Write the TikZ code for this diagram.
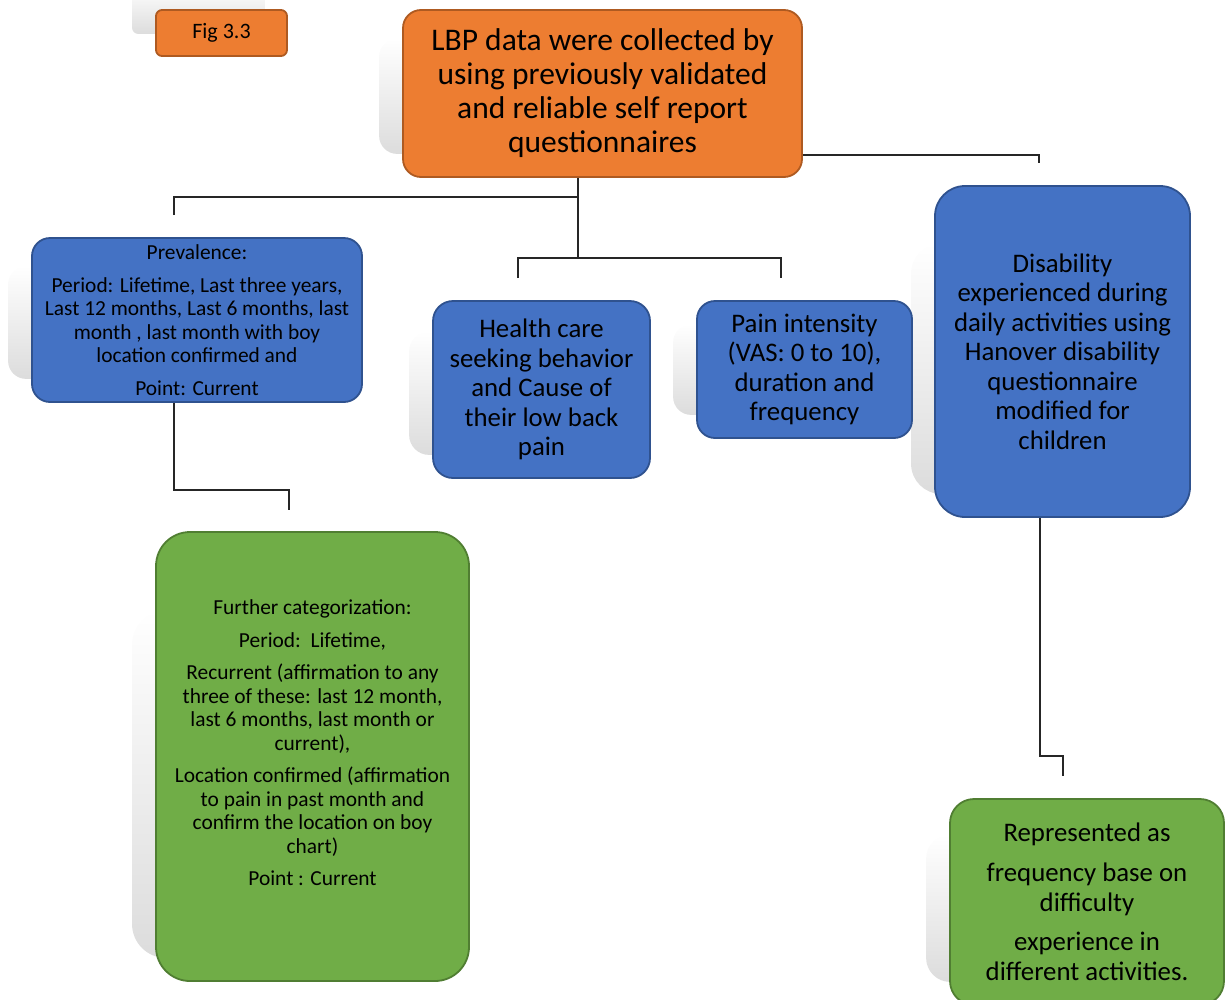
\documentclass[tikz,border=0pt]{standalone}
\usepackage{fontspec}
\setmainfont{Carlito}
\usetikzlibrary{calc,backgrounds,fadings}
\definecolor{orangefill}{HTML}{ED7D31}
\definecolor{orangeline}{HTML}{AE5A21}
\definecolor{bluefill}{HTML}{4472C4}
\definecolor{blueline}{HTML}{2F528F}
\definecolor{greenfill}{HTML}{70AD47}
\definecolor{greenline}{HTML}{507E32}
\definecolor{shadowgray}{HTML}{DCDCDC}
\begin{document}
\begin{tikzpicture}[x=1pt,y=-1pt,
  box/.style={line width=1.8pt, align=center, inner sep=0pt, text=black},
  orangebox/.style={box, fill=orangefill, draw=orangeline},
  bluebox/.style={box, fill=bluefill, draw=blueline},
  greenbox/.style={box, fill=greenfill, draw=greenline},
  link/.style={line width=1.2pt, draw=black!85},
  softshadow/.style={fill=shadowgray, path fading=north},
  fsmall/.style={font=\fontsize{21.4}{23.5}\selectfont},
  fmid/.style={font=\fontsize{26.8}{29.5}\selectfont},
  fbig/.style={font=\fontsize{31.5}{34}\selectfont}]
\useasboundingbox (0,0) rectangle (1225,999);

% boxes
\node[orangebox, rounded corners=6, minimum width=131, minimum height=46,
      font=\fontsize{22}{24}\selectfont] (fig) at (221.5,33) {Fig 3.3};
\node[orangebox, rounded corners=18, minimum width=399, minimum height=167, fbig]
  (main) at (602.5,93.5)
  {LBP data were collected by\\ using previously validated\\ and reliable self report\\ questionnaires};
\node[bluebox, rounded corners=18, minimum width=330, minimum height=164, fsmall]
  (prev) at (197,320)
  {Prevalence:\\[9pt] Period: Lifetime, Last three years,\\ Last 12 months, Last 6 months, last\\ month , last month with boy\\ location confirmed and\\[9pt] Point: Current};
\node[bluebox, rounded corners=20, minimum width=217, minimum height=177, fmid]
  (health) at (541.5,389.5)
  {Health care\\ seeking behavior\\ and Cause of\\ their low back\\ pain};
\node[bluebox, rounded corners=18, minimum width=215, minimum height=137, fmid]
  (pain) at (804.5,369.5)
  {Pain intensity\\ (VAS: 0 to 10),\\ duration and\\ frequency};
\node[bluebox, rounded corners=30, minimum width=255, minimum height=331, fmid]
  (disab) at (1062.5,351.5)
  {Disability\\ experienced during\\ daily activities using\\ Hanover disability\\ questionnaire\\ modified for\\ children};
\node[greenbox, rounded corners=34, minimum width=313, minimum height=449, fsmall]
  (further) at (312.5,756.5)
  {Further categorization:\\[9pt] Period:\ \ Lifetime,\\[9pt] Recurrent (affirmation to any\\ three of these: last 12 month,\\ last 6 months, last month or\\ current),\\[9pt] Location confirmed (affirmation\\ to pain in past month and\\ confirm the location on boy\\ chart)\\[9pt] Point : Current\\[4pt]\mbox{}};
\node[greenbox, rounded corners=24, minimum width=274, minimum height=206, fmid]
  (repr) at (1087,902)
  {Represented as\\[10.5pt] frequency base on\\ difficulty\\[10pt] experience in\\ different activities.};

% soft shadows behind the boxes, fading out towards the top
\begin{scope}[on background layer]
  \foreach \n/\r in {main/18, prev/18, health/20, pain/18, disab/30, further/34, repr/24}{
    \fill[softshadow, rounded corners=\r]
      ($(\n.north west)!0.35!(\n.west)+(-23,0)$) rectangle ($(\n.south east)+(-23,-24)$);
  }
  \fill[softshadow, rounded corners=6]
    ($(fig.north west)+(-23,-23)$) rectangle ($(fig.south east)+(-23,-23)$);
\end{scope}

% connector end points
\coordinate (jl) at (174,197);
\coordinate (jlend) at (174,215);
\coordinate (jm) at (578,258);
\coordinate (jhl) at (518,278);
\coordinate (jhr) at (781,278);
\coordinate (jr) at (1039,163);
\coordinate (jp) at (289,510);
\coordinate (jd) at (1063,776);

% connectors
\draw[link] (main.south -| 578,0) -- (jm);
\draw[link] (jlend) -- (jl) -- (jl -| jm);
\draw[link] (jhl) |- (jm) -| (jhr);
\draw[link] (main.east |- 0,155) -| (jr);
\draw[link] (prev.south -| 174,0) |- (289,490) -- (jp);
\draw[link] (disab.south -| 1040,0) |- (1063,756) -- (jd);
\end{tikzpicture}
\end{document}
